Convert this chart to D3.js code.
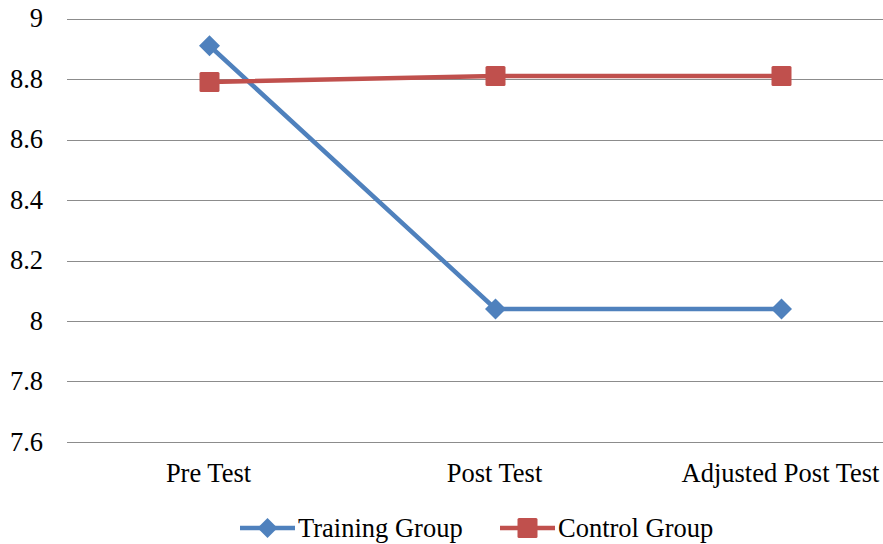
<!DOCTYPE html>
<html>
<head>
<meta charset="utf-8">
<script src="https://cdn.jsdelivr.net/npm/d3@7"></script>
<style>
  body { margin: 0; background: #fff; }
  svg { display: block; overflow: hidden; }
</style>
</head>
<body>
<div id="chart"></div>
<script>
// chart data
var categories = ["Pre Test", "Post Test", "Adjusted Post Test"];
var trainingValues = [8.91, 8.04, 8.04];
var controlValues = [8.79, 8.81, 8.81];
var yTicks = [7.6, 7.8, 8, 8.2, 8.4, 8.6, 8.8, 9];

var width = 883, height = 544;
var margin = {top: 18.5, left: 66.5, bottom: 102};
var serif = "'Liberation Serif', serif";
var fontSize = "26.5px";

var svg = d3.select("#chart").append("svg")
    .attr("width", width)
    .attr("height", height);

// the plot area runs past the right edge of the picture, as in the original
var x = d3.scalePoint()
    .domain(categories)
    .range([margin.left, margin.left + 3 * 286])
    .padding(0.5);

var y = d3.scaleLinear()
    .domain([7.6, 9])
    .range([height - margin.bottom, margin.top]);

// gridlines
svg.append("g")
    .selectAll("line")
    .data(yTicks)
    .enter().append("line")
    .attr("x1", 67)
    .attr("x2", width)
    .attr("y1", function(d) { return Math.round(y(d)) + 0.5; })
    .attr("y2", function(d) { return Math.round(y(d)) + 0.5; })
    .attr("stroke", "#8c8c8c")
    .attr("stroke-width", 1);

// y tick labels
svg.append("g")
    .selectAll("text")
    .data(yTicks)
    .enter().append("text")
    .attr("x", 43)
    .attr("y", function(d) { return y(d); })
    .attr("dy", "0.33em")
    .attr("text-anchor", "end")
    .style("font-family", serif)
    .style("font-size", fontSize)
    .text(function(d) { return d3.format("")(+d.toFixed(1)); });

// category labels
svg.append("g")
    .selectAll("text")
    .data(categories)
    .enter().append("text")
    .attr("x", function(d) { return x(d) - 1; })
    .attr("y", 482)
    .attr("text-anchor", "middle")
    .style("font-family", serif)
    .style("font-size", fontSize)
    .text(function(d) { return d; });

var line = d3.line()
    .x(function(d, i) { return x(categories[i]); })
    .y(function(d) { return y(d); });

var series = [
    {name: "Training Group", values: trainingValues, color: "#4F81BD", shape: "diamond"},
    {name: "Control Group", values: controlValues, color: "#C0504D", shape: "square"}
];

function drawMarker(g, shape, color, r) {
    if (shape === "diamond") {
        g.append("path")
            .attr("d", "M0," + (-r) + "L" + r + ",0L0," + r + "L" + (-r) + ",0Z")
            .attr("fill", color);
    } else {
        g.append("rect")
            .attr("x", -10).attr("y", -10)
            .attr("width", 20).attr("height", 20)
            .attr("rx", 1.5)
            .attr("fill", color);
    }
}

series.forEach(function(s) {
    svg.append("path")
        .datum(s.values)
        .attr("d", line)
        .attr("fill", "none")
        .attr("stroke", s.color)
        .attr("stroke-width", 4.5);

    s.values.forEach(function(v, i) {
        var g = svg.append("g")
            .attr("transform", "translate(" + x(categories[i]) + "," + y(v) + ")");
        drawMarker(g, s.shape, s.color, 10.5);
    });
});

// legend
var legendItems = [
    {x: 240, s: series[0]},
    {x: 500, s: series[1]}
];
legendItems.forEach(function(item) {
    var g = svg.append("g").attr("transform", "translate(" + item.x + ",528)");
    g.append("line")
        .attr("x1", 0).attr("x2", 55)
        .attr("stroke", item.s.color)
        .attr("stroke-width", 4.5);
    var m = g.append("g").attr("transform", "translate(27.5,0)");
    drawMarker(m, item.s.shape, item.s.color, 10);
    g.append("text")
        .attr("x", 58)
        .attr("dy", "0.33em")
        .style("font-family", serif)
        .style("font-size", fontSize)
        .text(item.s.name);
});
</script>
</body>
</html>
